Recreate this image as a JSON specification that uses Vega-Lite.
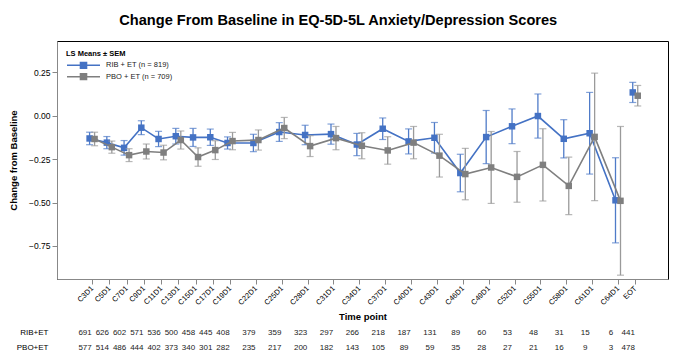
{
  "$schema": "https://vega.github.io/schema/vega-lite/v6.json",
  "padding": {"left": 7, "top": 12, "right": 11, "bottom": 0},
  "background": "white",
  "config": {
    "font": "Liberation Sans",
    "view": {"stroke": "#000", "strokeWidth": 1},
    "axis": {"domainColor": "#888", "tickColor": "#888", "labelColor": "#000", "titleColor": "#000", "labelFontSize": 8.5, "titleFontSize": 9.5, "titleFontWeight": "bold", "grid": false, "tickSize": 5, "labelPadding": 2}
  },
  "title": {"text": "Change From Baseline in EQ-5D-5L Anxiety/Depression Scores", "font": "Liberation Sans", "fontSize": 14.6, "fontWeight": "bold", "color": "#000", "anchor": "middle", "offset": 13},
  "datasets": {
    "d": [
      {"c": 3, "t": "RIB + ET (n = 819)", "r": "RIB+ET", "s": "visit", "m": -0.131, "lo": -0.167, "hi": -0.095, "n": 691},
      {"c": 5, "t": "RIB + ET (n = 819)", "r": "RIB+ET", "s": "visit", "m": -0.155, "lo": -0.190, "hi": -0.120, "n": 626},
      {"c": 7, "t": "RIB + ET (n = 819)", "r": "RIB+ET", "s": "visit", "m": -0.185, "lo": -0.227, "hi": -0.143, "n": 602},
      {"c": 9, "t": "RIB + ET (n = 819)", "r": "RIB+ET", "s": "visit", "m": -0.069, "lo": -0.109, "hi": -0.029, "n": 571},
      {"c": 11, "t": "RIB + ET (n = 819)", "r": "RIB+ET", "s": "visit", "m": -0.134, "lo": -0.178, "hi": -0.090, "n": 536},
      {"c": 13, "t": "RIB + ET (n = 819)", "r": "RIB+ET", "s": "visit", "m": -0.118, "lo": -0.163, "hi": -0.073, "n": 500},
      {"c": 15, "t": "RIB + ET (n = 819)", "r": "RIB+ET", "s": "visit", "m": -0.125, "lo": -0.177, "hi": -0.073, "n": 458},
      {"c": 17, "t": "RIB + ET (n = 819)", "r": "RIB+ET", "s": "visit", "m": -0.124, "lo": -0.171, "hi": -0.077, "n": 445},
      {"c": 19, "t": "RIB + ET (n = 819)", "r": "RIB+ET", "s": "visit", "m": -0.157, "lo": -0.192, "hi": -0.122, "n": 408},
      {"c": 22, "t": "RIB + ET (n = 819)", "r": "RIB+ET", "s": "visit", "m": -0.157, "lo": -0.207, "hi": -0.107, "n": 379},
      {"c": 25, "t": "RIB + ET (n = 819)", "r": "RIB+ET", "s": "visit", "m": -0.094, "lo": -0.148, "hi": -0.040, "n": 359},
      {"c": 28, "t": "RIB + ET (n = 819)", "r": "RIB+ET", "s": "visit", "m": -0.111, "lo": -0.167, "hi": -0.055, "n": 323},
      {"c": 31, "t": "RIB + ET (n = 819)", "r": "RIB+ET", "s": "visit", "m": -0.106, "lo": -0.164, "hi": -0.048, "n": 297},
      {"c": 34, "t": "RIB + ET (n = 819)", "r": "RIB+ET", "s": "visit", "m": -0.166, "lo": -0.230, "hi": -0.102, "n": 266},
      {"c": 37, "t": "RIB + ET (n = 819)", "r": "RIB+ET", "s": "visit", "m": -0.075, "lo": -0.137, "hi": -0.013, "n": 218},
      {"c": 40, "t": "RIB + ET (n = 819)", "r": "RIB+ET", "s": "visit", "m": -0.148, "lo": -0.220, "hi": -0.076, "n": 187},
      {"c": 43, "t": "RIB + ET (n = 819)", "r": "RIB+ET", "s": "visit", "m": -0.127, "lo": -0.215, "hi": -0.039, "n": 131},
      {"c": 46, "t": "RIB + ET (n = 819)", "r": "RIB+ET", "s": "visit", "m": -0.330, "lo": -0.438, "hi": -0.222, "n": 89},
      {"c": 49, "t": "RIB + ET (n = 819)", "r": "RIB+ET", "s": "visit", "m": -0.123, "lo": -0.276, "hi": 0.030, "n": 60},
      {"c": 52, "t": "RIB + ET (n = 819)", "r": "RIB+ET", "s": "visit", "m": -0.061, "lo": -0.161, "hi": 0.039, "n": 53},
      {"c": 55, "t": "RIB + ET (n = 819)", "r": "RIB+ET", "s": "visit", "m": -0.002, "lo": -0.129, "hi": 0.125, "n": 48},
      {"c": 58, "t": "RIB + ET (n = 819)", "r": "RIB+ET", "s": "visit", "m": -0.133, "lo": -0.243, "hi": -0.023, "n": 31},
      {"c": 61, "t": "RIB + ET (n = 819)", "r": "RIB+ET", "s": "visit", "m": -0.101, "lo": -0.336, "hi": 0.134, "n": 15},
      {"c": 64, "t": "RIB + ET (n = 819)", "r": "RIB+ET", "s": "visit", "m": -0.487, "lo": -0.732, "hi": -0.242, "n": 6},
      {"c": 66, "t": "RIB + ET (n = 819)", "r": "RIB+ET", "s": "eot", "m": 0.134, "lo": 0.076, "hi": 0.192, "n": 441},
      {"c": 3, "t": "PBO + ET (n = 709)", "r": "PBO+ET", "s": "visit", "m": -0.134, "lo": -0.173, "hi": -0.095, "n": 577},
      {"c": 5, "t": "PBO + ET (n = 709)", "r": "PBO+ET", "s": "visit", "m": -0.181, "lo": -0.216, "hi": -0.146, "n": 514},
      {"c": 7, "t": "PBO + ET (n = 709)", "r": "PBO+ET", "s": "visit", "m": -0.227, "lo": -0.264, "hi": -0.190, "n": 486},
      {"c": 9, "t": "PBO + ET (n = 709)", "r": "PBO+ET", "s": "visit", "m": -0.206, "lo": -0.249, "hi": -0.163, "n": 444},
      {"c": 11, "t": "PBO + ET (n = 709)", "r": "PBO+ET", "s": "visit", "m": -0.212, "lo": -0.254, "hi": -0.170, "n": 402},
      {"c": 13, "t": "PBO + ET (n = 709)", "r": "PBO+ET", "s": "visit", "m": -0.140, "lo": -0.192, "hi": -0.088, "n": 373},
      {"c": 15, "t": "PBO + ET (n = 709)", "r": "PBO+ET", "s": "visit", "m": -0.238, "lo": -0.291, "hi": -0.185, "n": 340},
      {"c": 17, "t": "PBO + ET (n = 709)", "r": "PBO+ET", "s": "visit", "m": -0.198, "lo": -0.252, "hi": -0.144, "n": 301},
      {"c": 19, "t": "PBO + ET (n = 709)", "r": "PBO+ET", "s": "visit", "m": -0.146, "lo": -0.196, "hi": -0.096, "n": 282},
      {"c": 22, "t": "PBO + ET (n = 709)", "r": "PBO+ET", "s": "visit", "m": -0.140, "lo": -0.198, "hi": -0.082, "n": 235},
      {"c": 25, "t": "PBO + ET (n = 709)", "r": "PBO+ET", "s": "visit", "m": -0.071, "lo": -0.132, "hi": -0.010, "n": 217},
      {"c": 28, "t": "PBO + ET (n = 709)", "r": "PBO+ET", "s": "visit", "m": -0.175, "lo": -0.235, "hi": -0.115, "n": 200},
      {"c": 31, "t": "PBO + ET (n = 709)", "r": "PBO+ET", "s": "visit", "m": -0.129, "lo": -0.196, "hi": -0.062, "n": 182},
      {"c": 34, "t": "PBO + ET (n = 709)", "r": "PBO+ET", "s": "visit", "m": -0.173, "lo": -0.248, "hi": -0.098, "n": 143},
      {"c": 37, "t": "PBO + ET (n = 709)", "r": "PBO+ET", "s": "visit", "m": -0.200, "lo": -0.279, "hi": -0.121, "n": 105},
      {"c": 40, "t": "PBO + ET (n = 709)", "r": "PBO+ET", "s": "visit", "m": -0.155, "lo": -0.248, "hi": -0.062, "n": 89},
      {"c": 43, "t": "PBO + ET (n = 709)", "r": "PBO+ET", "s": "visit", "m": -0.230, "lo": -0.353, "hi": -0.107, "n": 59},
      {"c": 46, "t": "PBO + ET (n = 709)", "r": "PBO+ET", "s": "visit", "m": -0.336, "lo": -0.484, "hi": -0.188, "n": 35},
      {"c": 49, "t": "PBO + ET (n = 709)", "r": "PBO+ET", "s": "visit", "m": -0.298, "lo": -0.505, "hi": -0.091, "n": 28},
      {"c": 52, "t": "PBO + ET (n = 709)", "r": "PBO+ET", "s": "visit", "m": -0.352, "lo": -0.498, "hi": -0.206, "n": 27},
      {"c": 55, "t": "PBO + ET (n = 709)", "r": "PBO+ET", "s": "visit", "m": -0.283, "lo": -0.491, "hi": -0.075, "n": 21},
      {"c": 58, "t": "PBO + ET (n = 709)", "r": "PBO+ET", "s": "visit", "m": -0.404, "lo": -0.569, "hi": -0.239, "n": 16},
      {"c": 61, "t": "PBO + ET (n = 709)", "r": "PBO+ET", "s": "visit", "m": -0.122, "lo": -0.489, "hi": 0.245, "n": 9},
      {"c": 64, "t": "PBO + ET (n = 709)", "r": "PBO+ET", "s": "visit", "m": -0.490, "lo": -0.918, "hi": -0.062, "n": 3},
      {"c": 66, "t": "PBO + ET (n = 709)", "r": "PBO+ET", "s": "eot", "m": 0.115, "lo": 0.056, "hi": 0.174, "n": 478}
    ]
  },
  "bounds": "flush",
  "spacing": 46,
  "vconcat": [
    {
      "width": 611,
      "height": 238,
      "data": {"name": "d"},
      "encoding": {
        "x": {
          "field": "c", "type": "quantitative",
          "scale": {"domain": [-1.07, 69.8], "nice": false, "zero": false},
          "axis": {
            "values": [3, 5, 7, 9, 11, 13, 15, 17, 19, 22, 25, 28, 31, 34, 37, 40, 43, 46, 49, 52, 55, 58, 61, 64, 66],
            "labelExpr": "datum.value == 66 ? 'EOT' : 'C' + datum.value + 'D1'",
            "labelAngle": -45, "labelAlign": "right", "labelBaseline": "middle", "labelOverlap": false, "labelFlush": false,
            "labelFontSize": 7.5, "labelPadding": 3, "title": "Time point", "titlePadding": 6
          }
        },
        "y": {
          "field": "m", "type": "quantitative",
          "scale": {"domain": [-0.94, 0.43], "nice": false, "zero": false},
          "axis": {"values": [-0.75, -0.5, -0.25, 0, 0.25], "format": ".2f", "title": "Change from Baseline", "titlePadding": 10}
        }
      },
      "layer": [
        {
          "transform": [{"filter": "datum.r == 'RIB+ET'"}],
          "layer": [
            {"mark": {"type": "rule", "color": "#4f7bc8", "strokeWidth": 1.3, "xOffset": -2.5}, "encoding": {"y": {"field": "lo", "type": "quantitative", "title": "Change from Baseline"}, "y2": {"field": "hi"}}},
            {"mark": {"type": "tick", "orient": "horizontal", "color": "#4f7bc8", "size": 7, "thickness": 1.2, "xOffset": -2.5}, "encoding": {"y": {"field": "lo", "type": "quantitative", "title": "Change from Baseline"}}},
            {"mark": {"type": "tick", "orient": "horizontal", "color": "#4f7bc8", "size": 7, "thickness": 1.2, "xOffset": -2.5}, "encoding": {"y": {"field": "hi", "type": "quantitative", "title": "Change from Baseline"}}},
            {"mark": {"type": "line", "strokeWidth": 1.6, "xOffset": -2.5}, "encoding": {"detail": {"field": "s"}, "color": {"field": "t", "type": "nominal", "scale": {"domain": ["RIB + ET (n = 819)", "PBO + ET (n = 709)"], "range": ["#4472C4", "#7F7F7F"]},
              "legend": {"title": "LS Means ± SEM", "orient": "top-left", "offset": 9, "padding": 0, "titleFontSize": 7.5, "titleFontWeight": "bold", "titleColor": "#000", "titlePadding": 4, "labelFontSize": 7.5, "labelColor": "#222", "symbolOffset": 13.5, "labelOffset": 18.5, "rowPadding": 2.5, "clipHeight": 7.5,
                "symbolType": "M-5.5,0H5.5M-1,-1H1V1H-1Z", "symbolSize": 36, "symbolStrokeWidth": 1.6,
                "encode": {"symbols": {"update": {"fill": {"scale": "color", "field": "value"}, "stroke": {"scale": "color", "field": "value"}, "fillOpacity": {"value": 1}, "strokeOpacity": {"value": 1}}}}}}}},
            {"mark": {"type": "square", "filled": true, "opacity": 1, "size": 42, "xOffset": -2.5}, "encoding": {"color": {"field": "t", "type": "nominal"}}}
          ]
        },
        {
          "transform": [{"filter": "datum.r == 'PBO+ET'"}],
          "layer": [
            {"mark": {"type": "rule", "color": "#9a9a9a", "strokeWidth": 1.3, "xOffset": 2.5}, "encoding": {"y": {"field": "lo", "type": "quantitative", "title": "Change from Baseline"}, "y2": {"field": "hi"}}},
            {"mark": {"type": "tick", "orient": "horizontal", "color": "#9a9a9a", "size": 7, "thickness": 1.2, "xOffset": 2.5}, "encoding": {"y": {"field": "lo", "type": "quantitative", "title": "Change from Baseline"}}},
            {"mark": {"type": "tick", "orient": "horizontal", "color": "#9a9a9a", "size": 7, "thickness": 1.2, "xOffset": 2.5}, "encoding": {"y": {"field": "hi", "type": "quantitative", "title": "Change from Baseline"}}},
            {"mark": {"type": "line", "strokeWidth": 1.6, "xOffset": 2.5}, "encoding": {"detail": {"field": "s"}, "color": {"field": "t", "type": "nominal"}}},
            {"mark": {"type": "square", "filled": true, "opacity": 1, "size": 42, "xOffset": 2.5}, "encoding": {"color": {"field": "t", "type": "nominal"}}}
          ]
        }
      ],
      "resolve": {"legend": {"color": "shared"}}
    },
    {
      "width": 611,
      "height": 30,
      "view": {"stroke": null},
      "data": {"name": "d"},
      "mark": {"type": "text", "fontSize": 8, "color": "#222", "dx": -7},
      "encoding": {
        "x": {"field": "c", "type": "quantitative", "scale": {"domain": [-1.07, 69.8], "nice": false, "zero": false}, "axis": null},
        "y": {"field": "r", "type": "nominal", "sort": ["RIB+ET", "PBO+ET"], "axis": {"title": null, "domain": false, "ticks": false, "labelFontSize": 8, "labelPadding": 9}},
        "text": {"field": "n", "type": "quantitative"}
      }
    }
  ],
  "resolve": {"scale": {"color": "shared"}}
}
